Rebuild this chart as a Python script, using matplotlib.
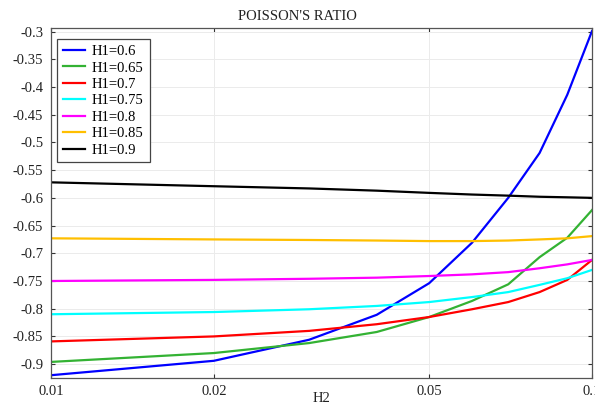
import numpy as np
import matplotlib
matplotlib.use("Agg")
import matplotlib.pyplot as plt
from matplotlib.ticker import FixedLocator, FixedFormatter, NullLocator

plt.rcParams["font.family"] = ["Liberation Serif", "DejaVu Serif"]
plt.rcParams["axes.unicode_minus"] = False

h2 = [0.01, 0.02, 0.03, 0.04, 0.05, 0.06, 0.07, 0.08, 0.09, 0.1]

nu_06 = [-0.920, -0.894, -0.856, -0.811, -0.754, -0.681, -0.600, -0.519, -0.414, -0.299]
nu_065 = [-0.896, -0.880, -0.862, -0.842, -0.815, -0.786, -0.756, -0.707, -0.672, -0.622]
nu_07 = [-0.859, -0.850, -0.840, -0.828, -0.815, -0.801, -0.788, -0.770, -0.748, -0.712]
nu_075 = [-0.810, -0.806, -0.801, -0.795, -0.788, -0.779, -0.770, -0.757, -0.745, -0.730]
nu_08 = [-0.750, -0.748, -0.746, -0.744, -0.741, -0.738, -0.734, -0.727, -0.720, -0.712]
nu_085 = [-0.673, -0.675, -0.676, -0.677, -0.678, -0.678, -0.677, -0.675, -0.673, -0.669]
nu_09 = [-0.572, -0.579, -0.583, -0.587, -0.591, -0.594, -0.596, -0.598, -0.599, -0.600]

labels = ["H1=0.6", "H1=0.65", "H1=0.7", "H1=0.75", "H1=0.8", "H1=0.85", "H1=0.9"]
colors = ["#0000ff", "#33b233", "#ff0000", "#00ffff", "#ff00ff", "#ffbf00", "#000000"]

x_ticks = [0.01, 0.02, 0.05, 0.1]
x_tick_labels = ["0.01", "0.02", "0.05", "0.1"]
y_ticks = [-0.3, -0.35, -0.4, -0.45, -0.5, -0.55, -0.6, -0.65, -0.7, -0.75, -0.8, -0.85, -0.9]

fig = plt.figure(figsize=(5.95, 4.05), dpi=100)
ax = fig.add_axes([0.0857, 0.0667, 0.9093, 0.8635])

series = [nu_06, nu_065, nu_07, nu_075, nu_08, nu_085, nu_09]
for y, lab, c in zip(series, labels, colors):
    ax.plot(h2, y, color=c, lw=1.6, label=lab)

ax.set_xscale("log")
ax.set_xlim(0.01, 0.1)
ax.set_ylim(-0.925, -0.294)
ax.xaxis.set_major_locator(FixedLocator(x_ticks))
ax.xaxis.set_major_formatter(FixedFormatter(x_tick_labels))
ax.xaxis.set_minor_locator(NullLocator())
ax.set_yticks(y_ticks)
ax.set_yticklabels(["%g" % v for v in y_ticks])

ax.tick_params(direction="in", top=True, right=True, labelsize=10.5,
               length=3, width=0.8, colors="#333333", labelcolor="#222222")
ax.tick_params(axis="y", pad=5.5)
ax.tick_params(axis="x", pad=5)
ax.grid(True, color="#ebebeb", lw=0.7)
for s in ax.spines.values():
    s.set_color("#555555")
    s.set_linewidth(0.9)

ax.set_title("POISSON'S RATIO", fontsize=10.5, pad=6, color="#222222", x=0.455)
ax.set_xlabel("H2", fontsize=10.5, labelpad=-4, color="#222222")

leg = ax.legend(loc="upper left", fontsize=10.5, fancybox=False, framealpha=1,
                edgecolor="#444444", handlelength=1.5, handletextpad=0.5,
                borderpad=0.4, labelspacing=0.22, borderaxespad=0,
                bbox_to_anchor=(0.011, 0.969))
leg.get_frame().set_linewidth(0.9)

fig.savefig("out.png", dpi=100)
